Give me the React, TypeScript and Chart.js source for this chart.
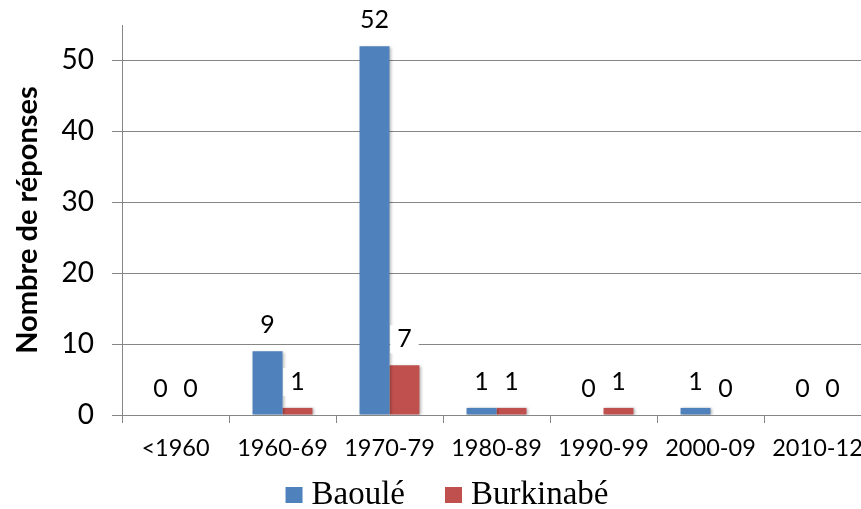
import React, { useEffect, useRef } from "react";
import { Chart, registerables } from "chart.js";

Chart.register(...registerables);

const categories = ["<1960", "1960-69", "1970-79", "1980-89", "1990-99", "2000-09", "2010-12"];
const baoule = [0, 9, 52, 1, 0, 1, 0];
const burkinabe = [0, 1, 7, 1, 1, 0, 0];
const seriesNames = ["Baoulé", "Burkinabé"];
const seriesColors = ["#4F81BD", "#C0504D"];
const yTicks = [0, 10, 20, 30, 40, 50];
const yMax = 55;
const axisTitle = "Nombre de réponses";

const shadowPlugin = {
  id: "barShadow",
  beforeDatasetsDraw(chart: any) {
    const ctx = chart.ctx;
    ctx.save();
    ctx.shadowColor = "rgba(0,0,0,0.3)";
    ctx.shadowBlur = 3;
    ctx.shadowOffsetX = 1.5;
    ctx.shadowOffsetY = 0.5;
  },
  afterDatasetsDraw(chart: any) {
    chart.ctx.restore();
  },
};

const labelPlugin = {
  id: "valueLabels",
  afterDatasetsDraw(chart: any) {
    const ctx = chart.ctx;
    ctx.save();
    ctx.font = "25px Lato";
    ctx.textAlign = "center";
    ctx.textBaseline = "middle";
    chart.data.datasets.forEach((ds: any, i: number) => {
      const meta = chart.getDatasetMeta(i);
      meta.data.forEach((el: any, j: number) => {
        const txt = String(ds.data[j]);
        const x = el.x;
        const y = el.y - 26;
        const w = ctx.measureText(txt).width + 14;
        ctx.fillStyle = "#ffffff";
        ctx.fillRect(x - w / 2, y - 14, w, 28);
        ctx.fillStyle = "#000000";
        ctx.fillText(txt, x, y);
      });
    });
    ctx.restore();
  },
};

const legendPlugin = {
  id: "bottomLegend",
  afterDraw(chart: any) {
    const ctx = chart.ctx;
    ctx.save();
    ctx.font = "33px 'Liberation Serif'";
    ctx.textBaseline = "alphabetic";
    ctx.textAlign = "left";
    const box = 17;
    const gapText = 9;
    const gapItem = 40;
    const widths = chart.data.datasets.map((d: any) => ctx.measureText(d.label).width);
    let total = 0;
    widths.forEach((w: number, i: number) => {
      total += box + gapText + w + (i < widths.length - 1 ? gapItem : 0);
    });
    let x = 447 - total / 2;
    const baseline = 504;
    chart.data.datasets.forEach((d: any, i: number) => {
      ctx.fillStyle = d.backgroundColor;
      ctx.fillRect(x, 487, box, 16);
      ctx.fillStyle = "#000000";
      ctx.fillText(d.label, x + box + gapText, baseline);
      x += box + gapText + widths[i] + gapItem;
    });
    ctx.restore();
  },
};

export default function App() {
  const ref = useRef<HTMLCanvasElement | null>(null);

  useEffect(() => {
    document.body.style.margin = "0";
    document.body.style.overflow = "hidden";
    const canvas = ref.current;
    if (!canvas) return;
    const chart = new Chart(canvas, {
      type: "bar",
      data: {
        labels: categories,
        datasets: [
          { label: seriesNames[0], data: baoule, backgroundColor: seriesColors[0], categoryPercentage: 0.56, barPercentage: 1.0 },
          { label: seriesNames[1], data: burkinabe, backgroundColor: seriesColors[1], categoryPercentage: 0.56, barPercentage: 1.0 },
        ],
      },
      options: {
        responsive: false,
        animation: false,
        devicePixelRatio: 1,
        layout: { padding: { top: 25, right: 9, left: 0, bottom: 0 } },
        plugins: {
          legend: { display: false },
          tooltip: { enabled: false },
        },
        scales: {
          x: {
            afterFit: (s: any) => {
              s.height = 94;
              s.paddingLeft = 0;
              s.paddingRight = 0;
            },
            ticks: { font: { family: "Lato", size: 23.5 }, color: "#000000", padding: 11, maxRotation: 0, autoSkip: false },
            grid: { display: true, drawOnChartArea: false, drawTicks: true, tickLength: 8, color: "#868686", offset: true },
            border: { color: "#868686" },
          },
          y: {
            min: 0,
            max: yMax,
            afterBuildTicks: (s: any) => {
              s.ticks = yTicks.map((v) => ({ value: v }));
            },
            afterFit: (s: any) => {
              s.width = 122;
              s.paddingTop = 0;
              s.paddingBottom = 0;
            },
            ticks: { font: { family: "Lato", size: 28 }, color: "#000000", padding: 18 },
            grid: { color: "#868686", lineWidth: 1, tickLength: 10, drawTicks: true },
            border: { color: "#868686" },
            title: {
              display: true,
              text: axisTitle,
              font: { family: "Lato", size: 29, weight: "bold" },
              color: "#000000",
              padding: { top: 10, bottom: 0 },
            },
          },
        },
      },
      plugins: [shadowPlugin, labelPlugin, legendPlugin],
    } as any);
    return () => chart.destroy();
  }, []);

  return (
    <div style={{ position: "fixed", left: 0, top: 0, width: 861, height: 509, overflow: "hidden", background: "#fff" }}>
      <canvas ref={ref} width={880} height={509} style={{ display: "block", width: 880, height: 509 }} />
    </div>
  );
}
